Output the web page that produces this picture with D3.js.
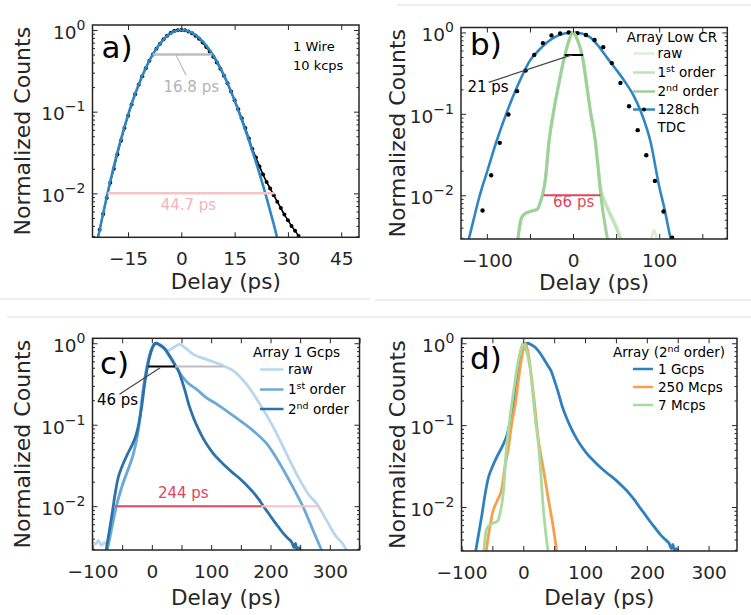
<!DOCTYPE html>
<html>
<head>
<meta charset="utf-8">
<script src="https://cdn.jsdelivr.net/npm/d3@7"></script>
<style>
  body { margin: 0; background: #fff; }
  svg text { font-family: "DejaVu Sans", sans-serif; }
</style>
</head>
<body>
<svg id="chart" width="751" height="615"></svg>
<script>
// ---------- data (delay in ps, normalized counts) ----------

// a) single wire, 10 kcps: measured histogram and gaussian fit
let aData = [[-24,0.0024],[-23,0.0036],[-22,0.0056],[-21,0.0088],[-20,0.0135],[-19,0.020],[-18,0.030],[-17,0.044],
  [-16,0.063],[-15,0.089],[-14,0.122],[-13,0.163],[-12,0.213],[-11,0.272],[-10,0.34],[-9,0.42],[-8,0.50],[-7,0.59],
  [-6,0.68],[-5,0.77],[-4,0.85],[-3,0.92],[-2,0.97],[-1,0.995],[0,1.0],[1,0.99],[2,0.96],[3,0.91],[4,0.85],[5,0.78],
  [6,0.70],[7,0.62],[8,0.54],[9,0.47],[10,0.40],[11,0.335],[12,0.275],[13,0.222],[14,0.176],[15,0.138],[16,0.107],
  [17,0.083],[18,0.063],[19,0.047],[20,0.035],[21,0.0275],[22,0.0214],[23,0.017],[24,0.0138],[25,0.0115],[26,0.0095],
  [27,0.0079],[28,0.0066],[29,0.0055],[30,0.0047],[31,0.004],[32,0.0035],[33,0.003],[34,0.0026]]
let aFit = [[-24,0.0022],[-22,0.0057],[-20,0.0141],[-18,0.0317],[-16,0.065],[-14,0.124],[-12,0.215],[-10,0.344],
  [-8,0.506],[-6,0.681],[-4,0.843],[-2,0.958],[0,1],[2,0.965],[4,0.867],[6,0.726],[8,0.566],[10,0.411],[12,0.278],
  [14,0.175],[16,0.105],[18,0.06],[20,0.033],[22,0.0175],[24,0.0088],[26,0.0042],[28,0.0019]]

// b) array, low count rate
let bFit = [[-122,0.0026],[-115,0.0052],[-110,0.0085],[-105,0.013],[-100,0.019],[-90,0.042],[-80,0.085],[-70,0.16],
  [-60,0.28],[-50,0.45],[-40,0.6],[-30,0.76],[-20,0.89],[-10,0.97],[0,1.0],[10,0.97],[20,0.87],[30,0.67],[40,0.48],
  [50,0.35],[60,0.25],[70,0.17],[80,0.098],[90,0.045],[100,0.0128],[106,0.0069],[113,0.003],[116,0.0022]]
let bTdc = [[-105,0.0065],[-95,0.0176],[-85,0.044],[-75,0.098],[-65,0.19],[-55,0.34],[-45,0.53],[-35,0.74],[-25,0.92],
  [-15,0.97],[-5,1.0],[5,0.98],[15,0.93],[25,0.81],[35,0.66],[45,0.42],[55,0.24],[65,0.124],[75,0.063],[85,0.031],
  [95,0.015],[105,0.0063],[115,0.003]]
let bRaw = [[-64,0.0029],[-60,0.0052],[-55,0.006],[-50,0.0063],[-45,0.0065],[-41,0.0068],[-38,0.0082],[-35,0.0105],
  [-32,0.016],[-28,0.045],[-23,0.1],[-17,0.22],[-10,0.5],[-5,0.78],[0,1.0],[5,0.82],[11,0.5],[16,0.22],[20,0.11],
  [26,0.045],[29,0.024],[32,0.013],[36,0.0092],[40,0.0073],[45,0.0056],[50,0.0043],[56,0.0029],[60,null],
  [90,0.0027],[92,0.0033],[94,0.0037],[96,0.0033],[98,0.0027]]
let b1st = [[-64,0.0029],[-60,0.0052],[-55,0.006],[-50,0.0063],[-45,0.0065],[-41,0.0068],[-38,0.0082],[-35,0.0105],
  [-32,0.016],[-28,0.045],[-23,0.1],[-17,0.22],[-10,0.5],[-5,0.78],[0,1.0],[5,0.82],[11,0.5],[16,0.22],[20,0.11],
  [26,0.045],[29,0.023],[32,0.012],[36,0.0085],[40,0.0068],[45,0.0052],[50,0.004],[55,0.0029]]
let b2nd = [[-64,0.0029],[-60,0.0052],[-55,0.006],[-50,0.0063],[-45,0.0065],[-41,0.0068],[-38,0.0082],[-35,0.0105],
  [-32,0.016],[-28,0.045],[-23,0.1],[-17,0.22],[-10,0.5],[-5,0.78],[0,1.0],[5,0.82],[11,0.5],[16,0.22],[20,0.11],
  [26,0.045],[29,0.022],[32,0.0105],[35,0.006],[38,0.0038],[40,0.0029]]

// c) array at 1 Gcps
let cRaw = [[-100,0.0037],[-95,0.0034],[-90,0.0038],[-85,0.0033],[-80,0.0036],[-75,0.0033],[-70,0.0042],[-65,0.0065],
  [-59,0.0107],[-52,0.016],[-45,0.0226],[-38,0.031],[-31,0.044],[-23,0.084],[-14,0.29],[-6,0.6],[2,0.9],[8,0.98],
  [16,0.9],[28,0.82],[38,0.9],[47,0.97],[56,0.88],[70,0.73],[93,0.63],[120,0.53],[137,0.46],[160,0.31],[182,0.18],
  [205,0.093],[227,0.044],[250,0.0206],[264,0.014],[278,0.0107],[295,0.0066],[311,0.0042],[320,0.0036],[328,0.0029]]
let c1st = [[-75,0.0029],[-70,0.0045],[-65,0.0068],[-59,0.0105],[-52,0.016],[-45,0.0226],[-38,0.031],[-31,0.044],
  [-23,0.084],[-14,0.29],[-6,0.62],[1,0.9],[7,1.0],[14,0.95],[22,0.85],[30,0.68],[40,0.52],[50,0.4],[60,0.33],
  [76,0.27],[90,0.22],[109,0.18],[137,0.129],[171,0.084],[194,0.058],[216,0.033],[238,0.017],[255,0.0098],
  [272,0.005],[286,0.0029]]
// 2nd order at 1 Gcps, shown in c) and d)
let gcps2nd = [[-77,0.0029],[-72,0.0048],[-67,0.008],[-62,0.014],[-57,0.022],[-50,0.031],[-42,0.042],[-34,0.055],
  [-26,0.077],[-18,0.15],[-11,0.36],[-5,0.62],[1,0.88],[7,1.0],[13,0.96],[20,0.88],[27,0.76],[34,0.63],[40,0.53],
  [45,0.46],[50,0.36],[56,0.26],[63,0.17],[70,0.123],[78,0.09],[87,0.067],[95,0.054],[104,0.044],[115,0.036],
  [126,0.030],[137,0.0255],[149,0.0216],[160,0.018],[171,0.0148],[180,0.0122],[188,0.010],[196,0.0083],[205,0.0067],
  [213,0.0056],[222,0.0046],[230,0.004],[236,0.0036],[240,0.0031],[242,0.0035],[245,0.0029],[248,0.0031],[252,0.0027]]

// d) 2nd order at 250 Mcps (7 Mcps is the low-rate curve of b)
let mcps250 = [[-60,0.0029],[-55,0.0052],[-49,0.0089],[-42,0.012],[-35,0.0165],[-30,0.03],[-24,0.053],[-19,0.1],
  [-13,0.18],[-6,0.45],[0,0.85],[3,1.0],[8,0.75],[14,0.35],[19,0.16],[24,0.07],[30,0.037],[35,0.0226],[41,0.012],
  [46,0.0074],[50,0.0048],[54,0.0029]]

// axis ticks
let yDomain = [0.0029, 1.15]
let yMajor = [0.01, 0.1, 1]
let yExp = ['−2', '−1', '0']
let yMinor = [0.003,0.004,0.005,0.006,0.007,0.008,0.009,0.02,0.03,0.04,0.05,0.06,0.07,0.08,0.09,
  0.2,0.3,0.4,0.5,0.6,0.7,0.8,0.9]
let aTicks = [-15, 0, 15, 30, 45]
let bTicks = [-100, -50, 0, 50, 100, 150]
let bLabels = [-100, 0, 100]
let cdTicks = [-100, -50, 0, 50, 100, 150, 200, 250, 300, 350]
let cdLabels = [-100, 0, 100, 200, 300]

// ---------- drawing ----------
let svg = d3.select('#chart')
let ink = '#262626'
let fmt = d3.format('d')

// light separators of the composite figure
let seps = [[0, 370, 299], [375, 751, 300], [7, 751, 317], [397, 751, 5]]
seps.forEach(s => {
  svg.append('line').attr('x1', s[0]).attr('x2', s[1]).attr('y1', s[2]).attr('y2', s[2])
     .attr('stroke', '#dcdcdc').attr('stroke-width', 1)
})

// text with superscript parts: [['1'], ['st', true], [' order']]
let richText = (sel, parts, supSize, rise) => {
  let lifted = false
  parts.forEach(p => {
    let ts = sel.append('tspan').text(p[0])
    if (p[1]) {
      ts.attr('font-size', supSize)
      if (!lifted) { ts.attr('dy', -rise); lifted = true }
    } else if (lifted) {
      ts.attr('dy', rise); lifted = false
    }
  })
}

let drawPanel = (cfg) => {
  let [L, R, T, B] = cfg.box
  let x = d3.scaleLinear().domain(cfg.xDomain).range([L, R])
  let y = d3.scaleLog().domain(yDomain).range([B, T])
  let g = svg.append('g')

  let clipId = 'clip-' + cfg.id
  svg.append('clipPath').attr('id', clipId).append('rect')
     .attr('x', L).attr('y', T).attr('width', R - L).attr('height', B - T)
  let plot = g.append('g').attr('clip-path', 'url(#' + clipId + ')')

  let line = d3.line()
    .defined(d => d[1] != null)
    .x(d => x(d[0]))
    .y(d => y(d[1]))
    .curve(d3.curveMonotoneX)

  cfg.series.forEach(s => {
    if (s.width) {
      plot.append('path').attr('d', line(s.data)).attr('fill', 'none')
          .attr('stroke', s.color).attr('stroke-width', s.width)
          .attr('stroke-linejoin', 'round').attr('stroke-linecap', 'round')
    }
    if (s.dot) {
      plot.append('g').selectAll('circle').data(s.data.filter(d => d[1] != null)).enter()
          .append('circle').attr('cx', d => x(d[0])).attr('cy', d => y(d[1]))
          .attr('r', s.dot).attr('fill', s.dotColor)
    }
  })

  // width markers and pointer lines (in data units)
  cfg.marks.forEach(m => {
    plot.append('line')
        .attr('x1', x(m[0])).attr('x2', x(m[1])).attr('y1', y(m[2])).attr('y2', y(m[3]))
        .attr('stroke', m[4]).attr('stroke-width', m[5])
  })
  cfg.notes.forEach(n => {
    g.append('text').attr('x', x(n[0])).attr('y', y(n[1])).text(n[2])
     .attr('fill', n[3]).attr('font-size', 15).attr('text-anchor', n[4])
  })

  // axes, ticks inward on all four sides
  let styleAxis = (sel) => {
    sel.select('.domain').remove()
    sel.attr('font-size', null).attr('font-family', null)
    sel.selectAll('line').attr('stroke', ink).attr('stroke-width', 1)
    sel.selectAll('text').attr('fill', ink).attr('font-size', 18.5)
  }
  g.append('g').attr('transform', 'translate(0,' + B + ')')
   .call(d3.axisBottom(x).tickValues(cfg.xTicks).tickSizeInner(-5).tickSizeOuter(0).tickPadding(15)
         .tickFormat(d => cfg.xLabels.includes(d) ? fmt(d) : ''))
   .call(styleAxis)
  g.append('g').attr('transform', 'translate(0,' + T + ')')
   .call(d3.axisTop(x).tickValues(cfg.xTicks).tickSizeInner(-5).tickSizeOuter(0).tickFormat(''))
   .call(styleAxis)

  let yl = g.append('g').attr('transform', 'translate(' + L + ',0)')
   .call(d3.axisLeft(y).tickValues(yMajor).tickSizeInner(-5).tickSizeOuter(0).tickPadding(7))
   .call(styleAxis)
  yl.selectAll('.tick text').each(function(d, i) {
    let t = d3.select(this).text(null).attr('dy', '0.45em')
    richText(t, [['10'], [yExp[i], true]], 14, 9)
  })
  g.append('g').attr('transform', 'translate(' + L + ',0)')
   .call(d3.axisLeft(y).tickValues(yMinor).tickSizeInner(-2.5).tickSizeOuter(0).tickFormat(''))
   .call(styleAxis)
  g.append('g').attr('transform', 'translate(' + R + ',0)')
   .call(d3.axisRight(y).tickValues(yMajor).tickSizeInner(-5).tickSizeOuter(0).tickFormat(''))
   .call(styleAxis)
  g.append('g').attr('transform', 'translate(' + R + ',0)')
   .call(d3.axisRight(y).tickValues(yMinor).tickSizeInner(-2.5).tickSizeOuter(0).tickFormat(''))
   .call(styleAxis)

  g.append('rect').attr('x', L).attr('y', T).attr('width', R - L).attr('height', B - T)
   .attr('fill', 'none').attr('stroke', ink).attr('stroke-width', 1.5)

  // axis titles
  g.append('text').attr('x', (L + R) / 2).attr('y', cfg.xTitleY).attr('text-anchor', 'middle')
   .attr('font-size', 21.5).attr('fill', ink).text('Delay (ps)')
  g.append('text').attr('transform', 'translate(' + cfg.yTitleX + ',' + (T + B) / 2 + ') rotate(-90)')
   .attr('text-anchor', 'middle').attr('font-size', 22).attr('fill', ink).text('Normalized Counts')

  // panel tag
  g.append('text').attr('x', cfg.tag[1]).attr('y', cfg.tag[2]).attr('font-size', 31)
   .attr('fill', '#000').text(cfg.tag[0])

  // legend
  let lg = cfg.legend
  if (lg.title) {
    richText(g.append('text').attr('x', lg.title[1]).attr('y', lg.title[2])
      .attr('font-size', 13.5).attr('fill', '#000'), lg.title[0], 9.5, 5)
  }
  lg.rows.forEach(r => {
    if (r.color) {
      g.append('line').attr('x1', lg.lineX[0]).attr('x2', lg.lineX[1])
       .attr('y1', r.y - 4.5).attr('y2', r.y - 4.5).attr('stroke', r.color).attr('stroke-width', 2.5)
    }
    if (r.dot) {
      g.append('circle').attr('cx', (lg.lineX[0] + lg.lineX[1]) / 2).attr('cy', r.y - 4.5)
       .attr('r', 2).attr('fill', '#000')
    }
    richText(g.append('text').attr('x', lg.textX).attr('y', r.y)
      .attr('font-size', lg.size).attr('fill', '#000'), r.parts, 9.5, 5)
  })
}

let blueA = '#2f86c4'
let gRaw = '#dcefd6', g1st = '#bfe3b9', g2nd = '#9dd197'
let cRawC = '#b9d7ec', c1stC = '#6ba9d6', c2ndC = '#2b71aa'
let red = '#e0465c', pink = '#f6c3c8', gray = '#bdbdbd'

drawPanel({
  id: 'a', box: [92.5, 359, 25, 237.3], xDomain: [-25, 50], xTicks: aTicks, xLabels: aTicks,
  xTitleY: 289, yTitleX: 30, tag: ['a)', 101.5, 57.5],
  series: [
    {data: aData, color: '#000', width: 1.6, dot: 2, dotColor: '#000'},
    {data: aFit, color: blueA, width: 2.6}
  ],
  marks: [[-8, 8.6, 0.5, 0.5, gray, 2.5], [-1.5, 1.3, 0.494, 0.28, gray, 1.2],
          [-20.7, 26.2, 0.01, 0.01, pink, 2.5]],
  notes: [[2.8, 0.172, '16.8 ps', '#b4b4b4', 'middle'], [2, 0.0063, '44.7 ps', '#f4b4ba', 'middle']],
  legend: {textX: 293, size: 13, rows: [{y: 51, parts: [['1 Wire']]}, {y: 70, parts: [['10 kcps']]}]}
})

drawPanel({
  id: 'b', box: [461, 727.3, 27.5, 239], xDomain: [-130, 179], xTicks: bTicks, xLabels: bLabels,
  xTitleY: 290, yTitleX: 405, tag: ['b)', 470, 54.5],
  series: [
    {data: bFit, color: blueA, width: 2.6},
    {data: bTdc, dot: 2.2, dotColor: '#000'},
    {data: bRaw, color: gRaw, width: 3},
    {data: b1st, color: g1st, width: 3},
    {data: b2nd, color: g2nd, width: 3}
  ],
  marks: [[-9.7, 11.6, 0.53, 0.53, '#000', 2], [-97.9, -1.2, 0.244, 0.53, '#444', 1.2],
          [-34, 31.7, 0.01, 0.01, red, 2]],
  notes: [[-122.6, 0.185, '21 ps', '#000', 'start'], [0.7, 0.0071, '66 ps', red, 'middle']],
  legend: {title: [[['Array Low CR']], 626.7, 42], lineX: [633, 655], textX: 657.5, size: 13.5, rows: [
    {y: 58, color: gRaw, parts: [['raw']]},
    {y: 77, color: g1st, parts: [['1'], ['st', true], [' order']]},
    {y: 96, color: g2nd, parts: [['2'], ['nd', true], [' order']]},
    {y: 114, color: blueA, dot: true, parts: [['128ch']]},
    {y: 132, parts: [['TDC']]}
  ]}
})

drawPanel({
  id: 'c', box: [92.5, 359.5, 338.3, 550], xDomain: [-100, 350], xTicks: cdTicks, xLabels: cdLabels,
  xTitleY: 605, yTitleX: 30, tag: ['c)', 100, 374],
  series: [
    {data: cRaw, color: cRawC, width: 2.8},
    {data: c1st, color: c1stC, width: 2.8},
    {data: gcps2nd, color: c2ndC, width: 2.8}
  ],
  marks: [[-5.7, 39.2, 0.52, 0.52, '#000', 2], [39.2, 120.5, 0.52, 0.52, gray, 2],
          [-54.5, 14, 0.237, 0.5, '#444', 1.2],
          [-61.7, 185, 0.01, 0.01, red, 2], [185, 283, 0.01, 0.01, pink, 2]],
  notes: [[-92.6, 0.176, '46 ps', '#000', 'start'], [53, 0.0126, '244 ps', red, 'middle']],
  legend: {title: [[['Array 1 Gcps']], 253, 357], lineX: [260, 283.5], textX: 288, size: 13.5, rows: [
    {y: 374, color: cRawC, parts: [['raw']]},
    {y: 394, color: c1stC, parts: [['1'], ['st', true], [' order']]},
    {y: 413.5, color: c2ndC, parts: [['2'], ['nd', true], [' order']]}
  ]}
})

drawPanel({
  id: 'd', box: [461.5, 737, 338.3, 551], xDomain: [-100, 346], xTicks: cdTicks.filter(t => t <= 346), xLabels: cdLabels,
  xTitleY: 605, yTitleX: 405, tag: ['d)', 470, 369],
  series: [
    {data: gcps2nd, color: '#2f80bf', width: 2.8},
    {data: mcps250, color: '#f7a04c', width: 2.8},
    {data: b2nd, color: '#a7db9f', width: 2.8}
  ],
  marks: [], notes: [],
  legend: {title: [[['Array ('], ['2'], ['nd', true], [' order)']], 613, 357], lineX: [633, 653], textX: 658, size: 13.5, rows: [
    {y: 373.5, color: '#2f80bf', parts: [['1 Gcps']]},
    {y: 391.5, color: '#f7a04c', parts: [['250 Mcps']]},
    {y: 409.5, color: '#a7db9f', parts: [['7 Mcps']]}
  ]}
})
</script>
</body>
</html>
